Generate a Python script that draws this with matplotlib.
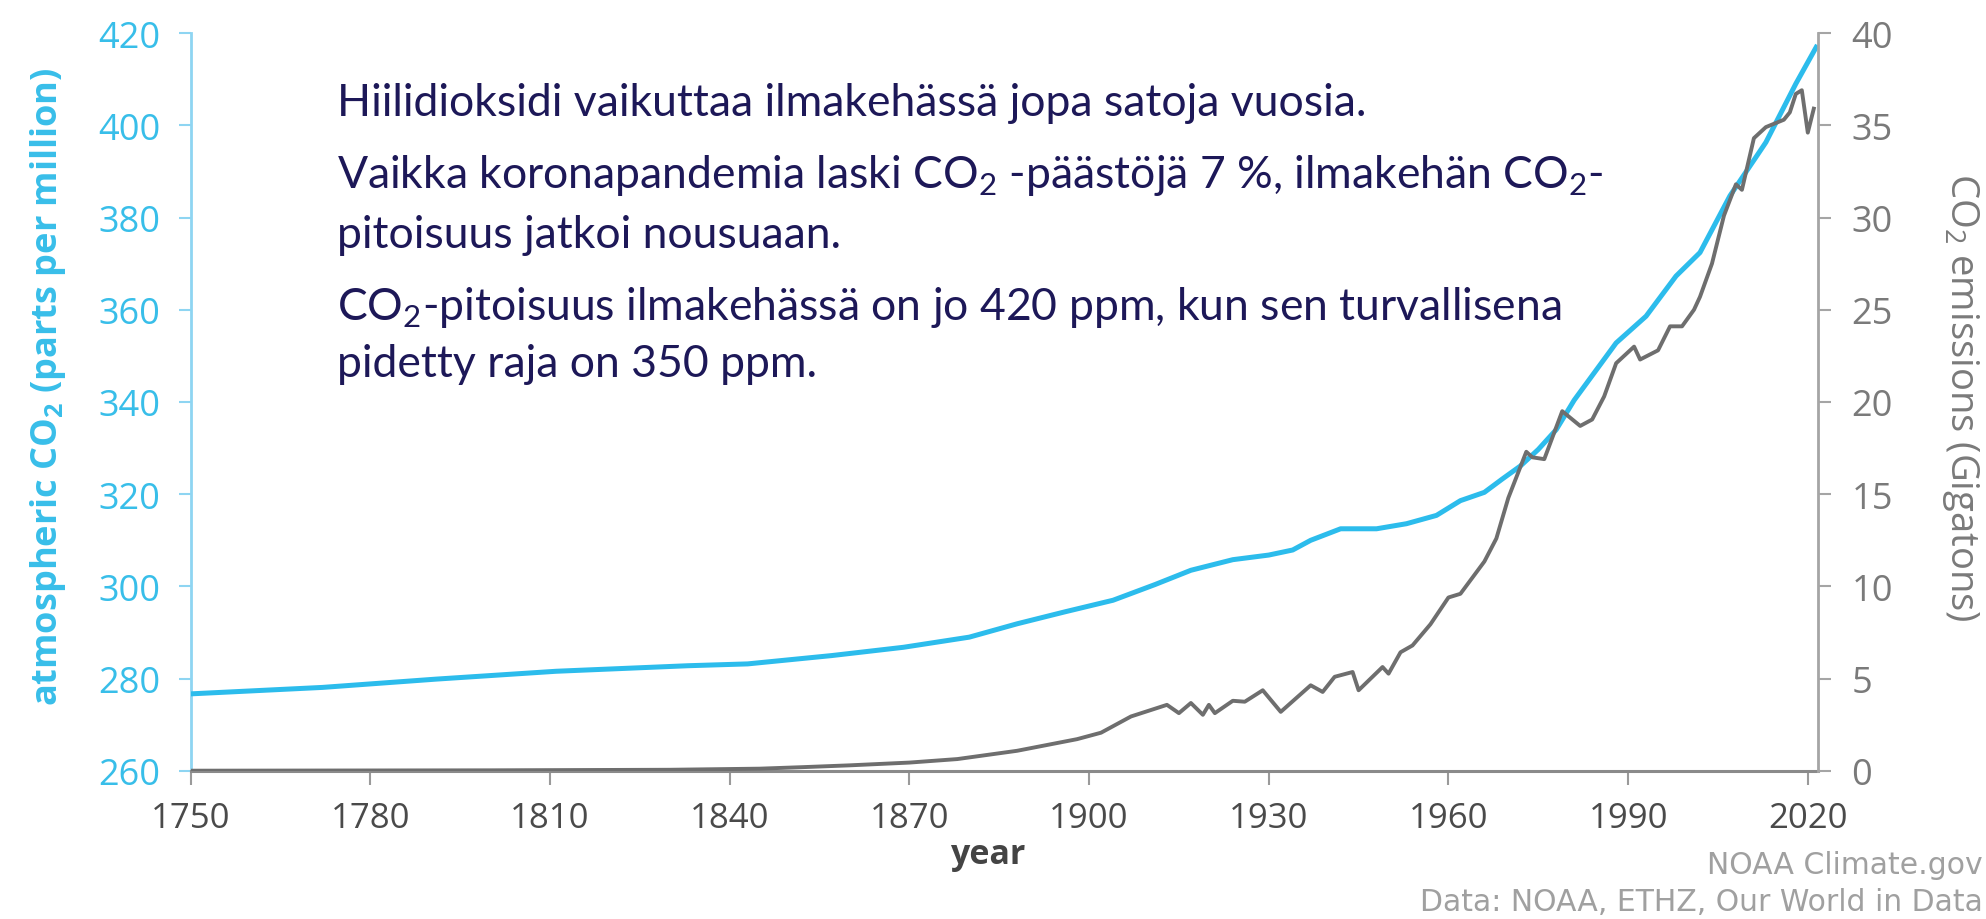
import matplotlib
matplotlib.use("Agg")
import matplotlib.pyplot as plt

# ---- data ----
ppm_years = [1750, 1772, 1791, 1811, 1833, 1843, 1857, 1869, 1880, 1888, 1896,
             1904, 1911, 1917, 1924, 1930, 1934, 1937, 1942, 1948, 1953, 1958,
             1962, 1966, 1969, 1972, 1975, 1978, 1981, 1988, 1993, 1998, 2002,
             2007, 2013, 2018, 2021.6]
ppm = [276.7, 278.1, 279.9, 281.6, 282.8, 283.2, 285.0, 286.8, 289.0, 291.9, 294.5,
       297.0, 300.4, 303.5, 305.8, 306.8, 307.9, 310.0, 312.5, 312.5, 313.6, 315.4,
       318.6, 320.4, 323.3, 326.1, 329.7, 334.0, 340.4, 352.8, 358.6, 367.3, 372.4,
       384.7, 396.3, 409.0, 417.4]

em_years = [1750, 1800, 1830, 1845, 1852, 1860, 1870, 1878, 1888, 1898, 1902, 1907,
            1913, 1915, 1917, 1919, 1920, 1921, 1924, 1926, 1929, 1932, 1937, 1939,
            1941, 1944, 1945, 1949, 1950, 1952, 1954, 1957, 1960, 1962, 1966, 1968,
            1970, 1973, 1974, 1976, 1979, 1982, 1984, 1986, 1988, 1991, 1992, 1995,
            1997, 1999, 2001, 2002, 2004, 2006, 2008, 2009, 2011, 2013, 2016, 2017,
            2018, 2019, 2020, 2021]
emissions = [0.01, 0.03, 0.06, 0.12, 0.2, 0.3, 0.45, 0.64, 1.09, 1.72, 2.07, 2.95,
             3.58, 3.13, 3.68, 3.04, 3.58, 3.13, 3.8, 3.75, 4.37, 3.2, 4.64, 4.28,
             5.1, 5.36, 4.37, 5.63, 5.27, 6.43, 6.8, 7.95, 9.4, 9.6, 11.35, 12.6,
             14.8, 17.3, 17.0, 16.9, 19.5, 18.7, 19.05, 20.3, 22.1, 23.0, 22.3, 22.8,
             24.1, 24.1, 25.0, 25.7, 27.5, 30.1, 31.8, 31.5, 34.3, 34.9, 35.3, 35.7,
             36.7, 36.9, 34.6, 35.9]

xticks = [1750, 1780, 1810, 1840, 1870, 1900, 1930, 1960, 1990, 2020]
ppm_ticks = [260, 280, 300, 320, 340, 360, 380, 400, 420]
em_ticks = [0, 5, 10, 15, 20, 25, 30, 35, 40]

CO2 = r"CO$_\mathregular{2}$"
notes = [
    "Hiilidioksidi vaikuttaa ilmakehässä jopa satoja vuosia.",
    f"Vaikka koronapandemia laski {CO2} -päästöjä 7 %, ilmakehän {CO2}-",
    "pitoisuus jatkoi nousuaan.",
    f"{CO2}-pitoisuus ilmakehässä on jo 420 ppm, kun sen turvallisena",
    "pidetty raja on 350 ppm.",
]

# ---- colours ----
BLUE = "#2cbcec"
BLUE_TXT = "#38bee9"
BLUE_SPINE = "#8ed5f2"
GRAY = "#6e6e6e"
GRAY_TXT = "#7a7a7a"
NAVY = "#1d1858"

plt.rcParams["font.family"] = ["Open Sans", "DejaVu Sans"]

fig = plt.figure(figsize=(19.86, 9.2), dpi=100)
ax = fig.add_axes([0.096, 0.161, 0.8194, 0.802])
ax2 = ax.twinx()

ax.plot(ppm_years, ppm, color=BLUE, lw=3.6, solid_capstyle="butt", zorder=3)
ax2.plot(em_years, emissions, color=GRAY, lw=2.8, zorder=3)

ax.set_xlim(1750, 2021.7)
ax.set_ylim(260, 420)
ax2.set_ylim(0, 40)
ax.set_xticks(xticks)
ax.set_yticks(ppm_ticks)
ax2.set_yticks(em_ticks)

for a in (ax, ax2):
    a.spines["top"].set_visible(False)
ax.spines["right"].set_visible(False)
ax2.spines["left"].set_visible(False)
ax2.spines["bottom"].set_visible(False)
ax.spines["left"].set_color(BLUE_SPINE)
ax.spines["left"].set_linewidth(2)
ax.spines["bottom"].set_color("#8a8a8a")
ax.spines["bottom"].set_linewidth(2.2)
ax2.spines["right"].set_color("#a5a5a5")
ax2.spines["right"].set_linewidth(2)

ax.tick_params(axis="y", direction="out", length=9, width=1.5, color=BLUE_SPINE,
               labelcolor=BLUE_TXT, labelsize=26, pad=13)
ax.tick_params(axis="x", direction="out", length=10, width=1.5, color="#9a9a9a",
               labelcolor="#4a4a4a", labelsize=25, pad=12)
ax2.tick_params(axis="y", direction="out", length=9, width=1.5, color="#a5a5a5",
                labelcolor=GRAY_TXT, labelsize=26, pad=15)

fig.text(48 / 1986, 0.580, "atmospheric " + CO2 + " (parts per million)",
         rotation=90, ha="center", va="center", color=BLUE_TXT,
         fontsize=26, fontweight="bold")
fig.text(1961 / 1986, 0.568, CO2 + " emissions (Gigatons)", rotation=270,
         ha="center", va="center", color=GRAY_TXT, fontsize=27.5)
fig.text(988 / 1986, 1 - 855 / 920, "year", ha="center", va="center",
         color="#444444", fontsize=24.5, fontweight="bold")
fig.text(1983 / 1986, 1 - 866 / 920, "NOAA Climate.gov", ha="right", va="center",
         color="#a0a0a0", fontsize=21.5, family="DejaVu Sans")
fig.text(1983 / 1986, 1 - 903 / 920, "Data: NOAA, ETHZ, Our World in Data",
         ha="right", va="center", color="#a0a0a0", fontsize=21.5,
         family="DejaVu Sans")

# overlay notes
note_y = [103, 175, 235, 308, 365]
for line, y in zip(notes, note_y):
    fig.text(337 / 1986, 1 - y / 920, line, ha="left", va="center",
             color=NAVY, fontsize=32, family=["Lato", "DejaVu Sans"])

fig.savefig("out.png", dpi=100)
